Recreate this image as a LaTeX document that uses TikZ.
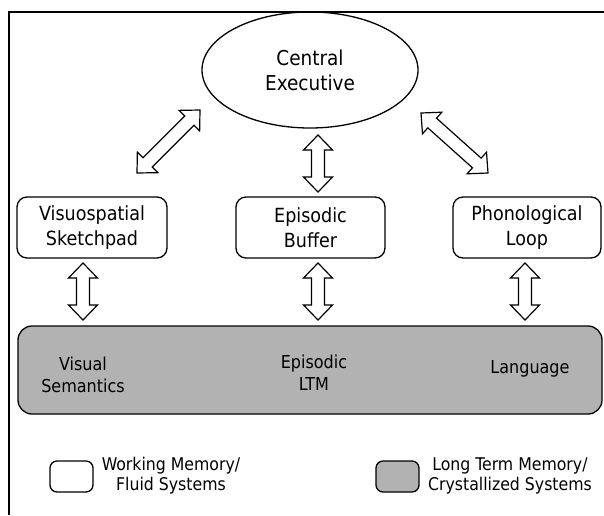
\documentclass[tikz,border=0pt]{standalone}
\usepackage{fontspec}
\setmainfont{DejaVu Sans Condensed}
\usetikzlibrary{shapes.geometric,calc}

\tikzset{
  lbl/.style={align=center, inner sep=0pt},
  boxfont/.style={font=\fontsize{19.5}{25}\selectfont},
  ltmfont/.style={font=\fontsize{17.8}{22}\selectfont},
  keyfont/.style={font=\fontsize{17.5}{20}\selectfont},
  wmbox/.style={draw, line width=1.3pt, rounded corners=10pt, fill=white,
    minimum width=#1, minimum height=61pt, lbl, boxfont},
  ltmfill/.style={fill=black!30},
  legbox/.style={draw, line width=1.3pt, rounded corners=7pt,
    minimum width=43pt, minimum height=31pt, inner sep=0pt},
  hollowlink/.style={draw, fill=white, line width=1.2pt, line join=miter}
}

% hollow two-headed arrow between two named coordinates
\newcommand\twoway[2]{%
  \path let \p1=(#1), \p2=(#2),
            \n1={atan2(\y2-\y1,\x2-\x1)}, \n2={veclen(\x2-\x1,\y2-\y1)} in
    \pgfextra{\xdef\twA{\n1}\xdef\twL{\n2}\xdef\twX{\x1}\xdef\twY{\y1}};
  \pgfmathsetmacro\twA{\twA}%
  \pgfmathsetmacro\twL{\twL}%
  \pgfmathsetmacro\twK{\twL-15}%
  \draw[hollowlink, shift={(\twX,\twY)}, rotate=\twA]
    (0pt,0pt) -- (15pt,14.5pt) -- (15pt,6.5pt) -- (\twK pt,6.5pt) -- (\twK pt,14.5pt)
    -- (\twL pt,0pt) -- (\twK pt,-14.5pt) -- (\twK pt,-6.5pt) -- (15pt,-6.5pt)
    -- (15pt,-14.5pt) -- cycle;
}

\begin{document}
\begin{tikzpicture}[x=1pt, y=-1pt]
\useasboundingbox (0,0) rectangle (604,515);

% frame lines
\draw[line width=1.6pt] (9,515) -- (9,12) -- (604,12);

% central executive
\node[ellipse, draw, line width=1.3pt, minimum width=216pt, minimum height=116pt, lbl,
      font=\fontsize{20.5}{25}\selectfont] (ce) at (310,70) {Central\\Executive};

% working memory subsystems
\node[wmbox=150pt] (vs) at (92,227.5)  {Visuospatial\\Sketchpad};
\node[wmbox=149pt] (eb) at (310.5,227.5) {Episodic\\Buffer};
\node[wmbox=148pt] (pl) at (527,227.5) {Phonological\\Loop};

% long term memory band
\node[draw, line width=1.3pt, rounded corners=14pt, ltmfill,
      minimum width=584pt, minimum height=88pt] (ltm) at (310,370) {};
\node[lbl, ltmfont] (vsem) at (83,375) {Visual\\Semantics};
\node[lbl, ltmfont] (elt)  at (314,373) {Episodic\\LTM};
\node[lbl, ltmfont] (lang) at (530,369) {Language};

% arrow end points
\coordinate (l1) at (137,173); \coordinate (l2) at (200,110);
\coordinate (r1) at (421,113); \coordinate (r2) at (488,173);
\coordinate (m1) at (318,135); \coordinate (m2) at (318,192);
\coordinate (a1) at (83,263);  \coordinate (a2) at (83,320);
\coordinate (b1) at (318,263); \coordinate (b2) at (318,320);
\coordinate (c1) at (525,263); \coordinate (c2) at (525,320);

\twoway{l1}{l2}
\twoway{r1}{r2}
\twoway{m1}{m2}
\twoway{a1}{a2}
\twoway{b1}{b2}
\twoway{c1}{c2}

% legend
\node[legbox, fill=white] (kwm) at (71.5,476.5) {};
\node[lbl, keyfont] (kwmt) at (171,476) {Working Memory/\\Fluid Systems};
\node[legbox, ltmfill] (kltm) at (397.5,476.5) {};
\node[lbl, keyfont] (kltmt) at (510,476) {Long Term Memory/\\Crystallized Systems};
\end{tikzpicture}
\end{document}
